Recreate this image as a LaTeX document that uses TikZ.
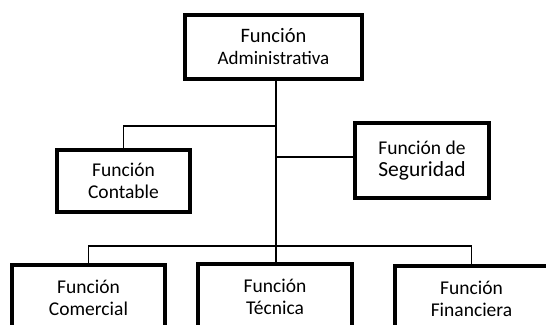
\documentclass[tikz,border=0pt]{standalone}
\usepackage{fontspec}
\setmainfont{Carlito}
\usepackage{tikz}
\tikzset{%
  funcbox/.style = {shape=rectangle, draw, line width=4.5pt,%
                    align=center, inner sep=0pt,%
                    font=\fontsize{19.5}{22}\selectfont},%
  topbox/.style  = {funcbox, font=\fontsize{20.5}{24}\selectfont},%
  link/.style    = {line width=1.3pt}%
}

\begin{document}
\begin{tikzpicture}[x=1pt,y=1pt]
		\clip (0,0) rectangle (546,-324);
		\node [topbox, minimum width=177pt, minimum height=64pt] (admin) at (273.5,-47)
			{Función\\[-2pt]{\fontsize{19}{22}\selectfont Administrativa}};
		\node [funcbox, minimum width=134pt, minimum height=75pt] (seg) at (422,-160.5)
			{{\fontsize{19.5}{24}\selectfont Función de}\\{\fontsize{21.5}{24}\selectfont Seguridad}};
		\node [funcbox, minimum width=133pt, minimum height=62pt] (cont) at (123.5,-181)
			{Función\\Contable};
		\node [funcbox, minimum width=153pt, minimum height=66pt] (com) at (88.5,-298)
			{Función\\Comercial};
		\node [funcbox, minimum width=154pt, minimum height=66pt] (tec) at (275,-297)
			{Función\\Técnica};
		\node [funcbox, minimum width=153pt, minimum height=66pt] (fin) at (471.5,-299)
			{Función\\Financiera};
		% ramas
		\coordinate (jc) at (276,-126);
		\coordinate (js) at (276,-157);
		\coordinate (jb) at (276,-246);
		\draw [link] (276,0 |- admin.south) -- (jb);
		\draw [link] (jc) -| (cont.north);
		\draw [link] (js) -- (js -| seg.west);
		\draw [link] (jb) -| (com.north);
		\draw [link] (jb) -| (fin.north);
		\draw [link] (jb) -- (jb |- tec.north);
\end{tikzpicture}
\end{document}
